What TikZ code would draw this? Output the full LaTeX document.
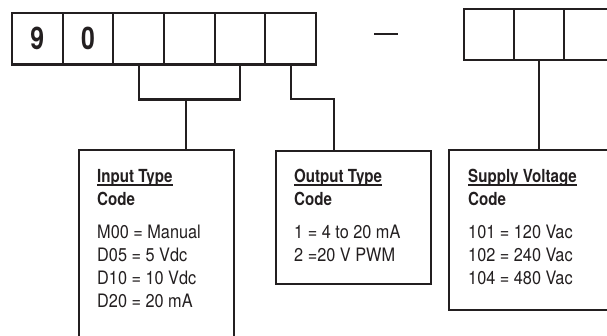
\documentclass[tikz,border=0pt]{standalone}
\usepackage{fontspec}
\setmainfont{TeX Gyre Heros}[FakeStretch=0.88]
\newfontfamily\titlefont{TeX Gyre Heros}[FakeStretch=0.84]
\newfontfamily\digitfont{TeX Gyre Heros}[FakeStretch=0.8]
\definecolor{ink}{RGB}{35,31,32}
\begin{document}
\begin{tikzpicture}[x=1pt,y=-1pt,
  cell/.style={draw=ink, line width=2.2pt, minimum width=50.67pt, minimum height=51.5pt,
    inner sep=0pt, outer sep=0pt, text=ink, font=\digitfont\bfseries\fontsize{31}{31}\selectfont},
  rcell/.style={cell, minimum width=50pt, minimum height=51pt},
  infobox/.style={draw=ink, line width=2.2pt, inner sep=0pt, outer sep=0pt, anchor=north west},
  wire/.style={draw=ink, line width=2.2pt},
  title/.style={anchor=base west, inner sep=0pt, text=ink, font=\titlefont\bfseries\fontsize{18}{23}\selectfont},
  entry/.style={anchor=base west, inner sep=0pt, text=ink, font=\fontsize{18.5}{23}\selectfont},
  uline/.style={draw=ink, line width=1.4pt},
]
\clip (0,0) rectangle (607,335);
% top code cells
\node[cell] (c1) at (37.33,38.75) {9};
\node[cell] (c2) at (88.00,38.75) {0};
\node[cell] (c3) at (138.67,38.75) {};
\node[cell] (c4) at (189.33,38.75) {};
\node[cell] (c5) at (240.00,38.75) {};
\node[cell] (c6) at (290.67,38.75) {};
\node[rcell] (r1) at (489,34.5) {};
\node[rcell] (r2) at (539,34.5) {};
\node[rcell] (r3) at (589,34.5) {};
% dash
\coordinate (d1) at (374,34);
\coordinate (d2) at (398,34);
\draw[draw=ink, line width=2pt] (d1) -- (d2);
% info boxes
\node[infobox, minimum width=155pt, minimum height=200pt] (inbox) at (79,150) {};
\node[infobox, minimum width=155pt, minimum height=133pt] (outbox) at (276,151) {};
\node[infobox, minimum width=170pt, minimum height=160pt] (supbox) at (449,150) {};
% connectors
\draw[wire] (c3.south) -- ++(0,35) -| (c5.south);
\coordinate (j1) at (186,99.5);
\draw[wire] (j1) -- (j1 |- inbox.north);
\coordinate (j2) at (334,99);
\draw[wire] (c6.south) |- (j2) -- (j2 |- outbox.north);
\draw[wire] (r2.south) -- (r2.south |- supbox.north);
% input type text
\node[title] (t1) at (97,182) {Input Type};
\draw[uline] ([yshift=-3pt]t1.base west) -- ([yshift=-3pt]t1.base east);
\node[title] (k1) at (97,205) {Code};
\node[entry] (a1) at (97,238) {M00 = Manual};
\node[entry] (a2) at (97,261) {D05 = 5 Vdc};
\node[entry] (a3) at (97,284) {D10 = 10 Vdc};
\node[entry] (a4) at (97,307) {D20 = 20 mA};
% output type text
\node[title] (t2) at (294,182) {Output Type};
\draw[uline] ([yshift=-3pt]t2.base west) -- ([yshift=-3pt]t2.base east);
\node[title] (k2) at (294,205) {Code};
\node[entry] (b1) at (294,238) {1 = 4 to 20 mA};
\node[entry] (b2) at (294,261) {2 =20 V PWM};
% supply voltage text
\node[title] (t3) at (468,182) {Supply Voltage};
\draw[uline] ([yshift=-3pt]t3.base west) -- ([yshift=-3pt]t3.base east);
\node[title] (k3) at (468,205) {Code};
\node[entry] (s1) at (468,238) {101 = 120 Vac};
\node[entry] (s2) at (468,261) {102 = 240 Vac};
\node[entry] (s3) at (468,284) {104 = 480 Vac};
\end{tikzpicture}
\end{document}
